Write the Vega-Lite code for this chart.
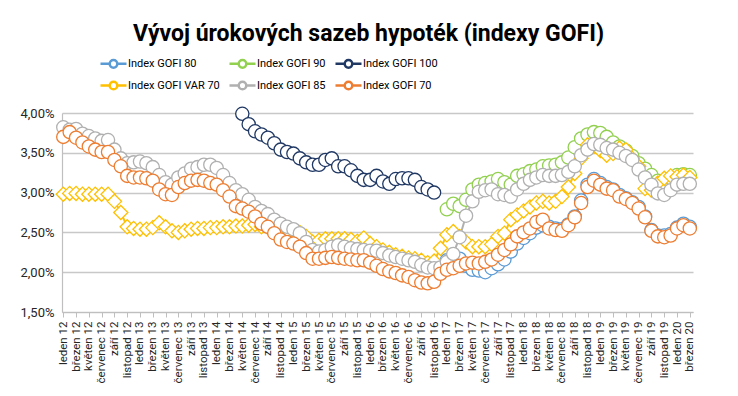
{
  "$schema": "https://vega.github.io/schema/vega-lite/v6.json",
  "width": 631,
  "height": 199,
  "autosize": {"type": "none"},
  "padding": {"left": 62, "top": 113, "right": 45, "bottom": 84},
  "background": "white",
  "title": {
    "text": "Vývoj úrokových sazeb hypoték (indexy GOFI)",
    "font": "Roboto",
    "fontSize": 23,
    "fontWeight": "bold",
    "color": "#000000",
    "anchor": "middle",
    "dx": -9,
    "offset": -17,
    "baseline": "bottom"
  },
  "config": {
    "view": {"stroke": null},
    "font": "Roboto"
  },
  "datasets": {
    "rates": [
      {"s":"Index GOFI 80","i":60,"v":2.15},{"s":"Index GOFI 80","i":61,"v":2.17},{"s":"Index GOFI 80","i":62,"v":2.17},{"s":"Index GOFI 80","i":63,"v":2.08},{"s":"Index GOFI 80","i":64,"v":2.03},{"s":"Index GOFI 80","i":65,"v":2.02},{"s":"Index GOFI 80","i":66,"v":2.00},{"s":"Index GOFI 80","i":67,"v":2.05},{"s":"Index GOFI 80","i":68,"v":2.10},{"s":"Index GOFI 80","i":69,"v":2.16},
      {"s":"Index GOFI 80","i":70,"v":2.26},{"s":"Index GOFI 80","i":71,"v":2.36},{"s":"Index GOFI 80","i":72,"v":2.43},{"s":"Index GOFI 80","i":73,"v":2.49},{"s":"Index GOFI 80","i":74,"v":2.56},{"s":"Index GOFI 80","i":75,"v":2.59},{"s":"Index GOFI 80","i":76,"v":2.57},{"s":"Index GOFI 80","i":77,"v":2.55},{"s":"Index GOFI 80","i":78,"v":2.54},{"s":"Index GOFI 80","i":79,"v":2.60},
      {"s":"Index GOFI 80","i":80,"v":2.70},{"s":"Index GOFI 80","i":81,"v":2.90},{"s":"Index GOFI 80","i":82,"v":3.10},{"s":"Index GOFI 80","i":83,"v":3.17},{"s":"Index GOFI 80","i":84,"v":3.12},{"s":"Index GOFI 80","i":85,"v":3.07},{"s":"Index GOFI 80","i":86,"v":3.04},{"s":"Index GOFI 80","i":87,"v":2.97},{"s":"Index GOFI 80","i":88,"v":2.93},{"s":"Index GOFI 80","i":89,"v":2.88},
      {"s":"Index GOFI 80","i":90,"v":2.82},{"s":"Index GOFI 80","i":91,"v":2.70},{"s":"Index GOFI 80","i":92,"v":2.53},{"s":"Index GOFI 80","i":93,"v":2.46},{"s":"Index GOFI 80","i":94,"v":2.46},{"s":"Index GOFI 80","i":95,"v":2.48},{"s":"Index GOFI 80","i":96,"v":2.56},{"s":"Index GOFI 80","i":97,"v":2.61},{"s":"Index GOFI 80","i":98,"v":2.57},

      {"s":"Index GOFI 90","i":60,"v":2.79},{"s":"Index GOFI 90","i":61,"v":2.86},{"s":"Index GOFI 90","i":62,"v":2.83},{"s":"Index GOFI 90","i":63,"v":2.91},{"s":"Index GOFI 90","i":64,"v":3.04},{"s":"Index GOFI 90","i":65,"v":3.10},{"s":"Index GOFI 90","i":66,"v":3.12},{"s":"Index GOFI 90","i":67,"v":3.14},{"s":"Index GOFI 90","i":68,"v":3.17},{"s":"Index GOFI 90","i":69,"v":3.13},
      {"s":"Index GOFI 90","i":70,"v":3.10},{"s":"Index GOFI 90","i":71,"v":3.21},{"s":"Index GOFI 90","i":72,"v":3.23},{"s":"Index GOFI 90","i":73,"v":3.27},{"s":"Index GOFI 90","i":74,"v":3.29},{"s":"Index GOFI 90","i":75,"v":3.33},{"s":"Index GOFI 90","i":76,"v":3.34},{"s":"Index GOFI 90","i":77,"v":3.35},{"s":"Index GOFI 90","i":78,"v":3.38},{"s":"Index GOFI 90","i":79,"v":3.44},
      {"s":"Index GOFI 90","i":80,"v":3.57},{"s":"Index GOFI 90","i":81,"v":3.68},{"s":"Index GOFI 90","i":82,"v":3.73},{"s":"Index GOFI 90","i":83,"v":3.76},{"s":"Index GOFI 90","i":84,"v":3.75},{"s":"Index GOFI 90","i":85,"v":3.70},{"s":"Index GOFI 90","i":86,"v":3.63},{"s":"Index GOFI 90","i":87,"v":3.58},{"s":"Index GOFI 90","i":88,"v":3.53},{"s":"Index GOFI 90","i":89,"v":3.46},
      {"s":"Index GOFI 90","i":90,"v":3.37},{"s":"Index GOFI 90","i":91,"v":3.30},{"s":"Index GOFI 90","i":92,"v":3.22},{"s":"Index GOFI 90","i":93,"v":3.15},{"s":"Index GOFI 90","i":94,"v":3.12},{"s":"Index GOFI 90","i":95,"v":3.18},{"s":"Index GOFI 90","i":96,"v":3.22},{"s":"Index GOFI 90","i":97,"v":3.23},{"s":"Index GOFI 90","i":98,"v":3.22},

      {"s":"Index GOFI 100","i":28,"v":3.99},{"s":"Index GOFI 100","i":29,"v":3.86},{"s":"Index GOFI 100","i":30,"v":3.77},{"s":"Index GOFI 100","i":31,"v":3.73},{"s":"Index GOFI 100","i":32,"v":3.69},{"s":"Index GOFI 100","i":33,"v":3.62},{"s":"Index GOFI 100","i":34,"v":3.54},{"s":"Index GOFI 100","i":35,"v":3.51},{"s":"Index GOFI 100","i":36,"v":3.49},{"s":"Index GOFI 100","i":37,"v":3.43},
      {"s":"Index GOFI 100","i":38,"v":3.38},{"s":"Index GOFI 100","i":39,"v":3.35},{"s":"Index GOFI 100","i":40,"v":3.35},{"s":"Index GOFI 100","i":41,"v":3.41},{"s":"Index GOFI 100","i":42,"v":3.43},{"s":"Index GOFI 100","i":43,"v":3.33},{"s":"Index GOFI 100","i":44,"v":3.33},{"s":"Index GOFI 100","i":45,"v":3.28},{"s":"Index GOFI 100","i":46,"v":3.21},{"s":"Index GOFI 100","i":47,"v":3.16},
      {"s":"Index GOFI 100","i":48,"v":3.16},{"s":"Index GOFI 100","i":49,"v":3.21},{"s":"Index GOFI 100","i":50,"v":3.14},{"s":"Index GOFI 100","i":51,"v":3.11},{"s":"Index GOFI 100","i":52,"v":3.17},{"s":"Index GOFI 100","i":53,"v":3.18},{"s":"Index GOFI 100","i":54,"v":3.18},{"s":"Index GOFI 100","i":55,"v":3.16},{"s":"Index GOFI 100","i":56,"v":3.07},{"s":"Index GOFI 100","i":57,"v":3.04},
      {"s":"Index GOFI 100","i":58,"v":3.00},

      {"s":"Index GOFI VAR 70","i":0,"v":2.98},{"s":"Index GOFI VAR 70","i":1,"v":2.99},{"s":"Index GOFI VAR 70","i":2,"v":2.99},{"s":"Index GOFI VAR 70","i":3,"v":2.98},{"s":"Index GOFI VAR 70","i":4,"v":2.98},{"s":"Index GOFI VAR 70","i":5,"v":2.98},{"s":"Index GOFI VAR 70","i":6,"v":2.98},{"s":"Index GOFI VAR 70","i":7,"v":2.98},{"s":"Index GOFI VAR 70","i":8,"v":2.89},{"s":"Index GOFI VAR 70","i":9,"v":2.75},
      {"s":"Index GOFI VAR 70","i":10,"v":2.57},{"s":"Index GOFI VAR 70","i":11,"v":2.55},{"s":"Index GOFI VAR 70","i":12,"v":2.54},{"s":"Index GOFI VAR 70","i":13,"v":2.54},{"s":"Index GOFI VAR 70","i":14,"v":2.56},{"s":"Index GOFI VAR 70","i":15,"v":2.62},{"s":"Index GOFI VAR 70","i":16,"v":2.57},{"s":"Index GOFI VAR 70","i":17,"v":2.52},{"s":"Index GOFI VAR 70","i":18,"v":2.50},{"s":"Index GOFI VAR 70","i":19,"v":2.52},
      {"s":"Index GOFI VAR 70","i":20,"v":2.54},{"s":"Index GOFI VAR 70","i":21,"v":2.55},{"s":"Index GOFI VAR 70","i":22,"v":2.55},{"s":"Index GOFI VAR 70","i":23,"v":2.56},{"s":"Index GOFI VAR 70","i":24,"v":2.56},{"s":"Index GOFI VAR 70","i":25,"v":2.57},{"s":"Index GOFI VAR 70","i":26,"v":2.57},{"s":"Index GOFI VAR 70","i":27,"v":2.58},{"s":"Index GOFI VAR 70","i":28,"v":2.58},{"s":"Index GOFI VAR 70","i":29,"v":2.59},
      {"s":"Index GOFI VAR 70","i":30,"v":2.60},{"s":"Index GOFI VAR 70","i":31,"v":2.57},{"s":"Index GOFI VAR 70","i":32,"v":2.56},{"s":"Index GOFI VAR 70","i":33,"v":2.55},{"s":"Index GOFI VAR 70","i":34,"v":2.54},{"s":"Index GOFI VAR 70","i":35,"v":2.53},{"s":"Index GOFI VAR 70","i":36,"v":2.52},{"s":"Index GOFI VAR 70","i":37,"v":2.50},{"s":"Index GOFI VAR 70","i":38,"v":2.45},{"s":"Index GOFI VAR 70","i":39,"v":2.38},
      {"s":"Index GOFI VAR 70","i":40,"v":2.40},{"s":"Index GOFI VAR 70","i":41,"v":2.42},{"s":"Index GOFI VAR 70","i":42,"v":2.42},{"s":"Index GOFI VAR 70","i":43,"v":2.42},{"s":"Index GOFI VAR 70","i":44,"v":2.42},{"s":"Index GOFI VAR 70","i":45,"v":2.41},{"s":"Index GOFI VAR 70","i":46,"v":2.39},{"s":"Index GOFI VAR 70","i":47,"v":2.43},{"s":"Index GOFI VAR 70","i":48,"v":2.36},{"s":"Index GOFI VAR 70","i":49,"v":2.32},
      {"s":"Index GOFI VAR 70","i":50,"v":2.28},{"s":"Index GOFI VAR 70","i":51,"v":2.25},{"s":"Index GOFI VAR 70","i":52,"v":2.22},{"s":"Index GOFI VAR 70","i":53,"v":2.20},{"s":"Index GOFI VAR 70","i":54,"v":2.18},{"s":"Index GOFI VAR 70","i":55,"v":2.17},{"s":"Index GOFI VAR 70","i":56,"v":2.15},{"s":"Index GOFI VAR 70","i":57,"v":2.12},{"s":"Index GOFI VAR 70","i":58,"v":2.14},{"s":"Index GOFI VAR 70","i":59,"v":2.30},
      {"s":"Index GOFI VAR 70","i":60,"v":2.47},{"s":"Index GOFI VAR 70","i":61,"v":2.51},{"s":"Index GOFI VAR 70","i":62,"v":2.45},{"s":"Index GOFI VAR 70","i":63,"v":2.38},{"s":"Index GOFI VAR 70","i":64,"v":2.32},{"s":"Index GOFI VAR 70","i":65,"v":2.32},{"s":"Index GOFI VAR 70","i":66,"v":2.32},{"s":"Index GOFI VAR 70","i":67,"v":2.35},{"s":"Index GOFI VAR 70","i":68,"v":2.45},{"s":"Index GOFI VAR 70","i":69,"v":2.49},
      {"s":"Index GOFI VAR 70","i":70,"v":2.66},{"s":"Index GOFI VAR 70","i":71,"v":2.72},{"s":"Index GOFI VAR 70","i":72,"v":2.77},{"s":"Index GOFI VAR 70","i":73,"v":2.82},{"s":"Index GOFI VAR 70","i":74,"v":2.87},{"s":"Index GOFI VAR 70","i":75,"v":2.89},{"s":"Index GOFI VAR 70","i":76,"v":2.87},{"s":"Index GOFI VAR 70","i":77,"v":2.89},{"s":"Index GOFI VAR 70","i":78,"v":2.95},{"s":"Index GOFI VAR 70","i":79,"v":3.07},
      {"s":"Index GOFI VAR 70","i":80,"v":3.24},{"s":"Index GOFI VAR 70","i":81,"v":3.43},{"s":"Index GOFI VAR 70","i":82,"v":3.60},{"s":"Index GOFI VAR 70","i":83,"v":3.58},{"s":"Index GOFI VAR 70","i":84,"v":3.53},{"s":"Index GOFI VAR 70","i":85,"v":3.47},{"s":"Index GOFI VAR 70","i":86,"v":3.49},{"s":"Index GOFI VAR 70","i":87,"v":3.56},{"s":"Index GOFI VAR 70","i":88,"v":3.54},{"s":"Index GOFI VAR 70","i":89,"v":3.43},
      {"s":"Index GOFI VAR 70","i":90,"v":3.33},{"s":"Index GOFI VAR 70","i":91,"v":3.05},{"s":"Index GOFI VAR 70","i":92,"v":3.03},{"s":"Index GOFI VAR 70","i":93,"v":3.12},{"s":"Index GOFI VAR 70","i":94,"v":3.18},{"s":"Index GOFI VAR 70","i":95,"v":3.21},{"s":"Index GOFI VAR 70","i":96,"v":3.20},{"s":"Index GOFI VAR 70","i":97,"v":3.22},{"s":"Index GOFI VAR 70","i":98,"v":3.19},

      {"s":"Index GOFI 85","i":0,"v":3.82},{"s":"Index GOFI 85","i":1,"v":3.79},{"s":"Index GOFI 85","i":2,"v":3.80},{"s":"Index GOFI 85","i":3,"v":3.74},{"s":"Index GOFI 85","i":4,"v":3.71},{"s":"Index GOFI 85","i":5,"v":3.68},{"s":"Index GOFI 85","i":6,"v":3.65},{"s":"Index GOFI 85","i":7,"v":3.66},{"s":"Index GOFI 85","i":8,"v":3.54},{"s":"Index GOFI 85","i":9,"v":3.43},
      {"s":"Index GOFI 85","i":10,"v":3.37},{"s":"Index GOFI 85","i":11,"v":3.38},{"s":"Index GOFI 85","i":12,"v":3.39},{"s":"Index GOFI 85","i":13,"v":3.37},{"s":"Index GOFI 85","i":14,"v":3.32},{"s":"Index GOFI 85","i":15,"v":3.22},{"s":"Index GOFI 85","i":16,"v":3.13},{"s":"Index GOFI 85","i":17,"v":3.10},{"s":"Index GOFI 85","i":18,"v":3.19},{"s":"Index GOFI 85","i":19,"v":3.24},
      {"s":"Index GOFI 85","i":20,"v":3.30},{"s":"Index GOFI 85","i":21,"v":3.32},{"s":"Index GOFI 85","i":22,"v":3.35},{"s":"Index GOFI 85","i":23,"v":3.35},{"s":"Index GOFI 85","i":24,"v":3.31},{"s":"Index GOFI 85","i":25,"v":3.22},{"s":"Index GOFI 85","i":26,"v":3.12},{"s":"Index GOFI 85","i":27,"v":3.03},{"s":"Index GOFI 85","i":28,"v":2.98},{"s":"Index GOFI 85","i":29,"v":2.91},
      {"s":"Index GOFI 85","i":30,"v":2.82},{"s":"Index GOFI 85","i":31,"v":2.77},{"s":"Index GOFI 85","i":32,"v":2.73},{"s":"Index GOFI 85","i":33,"v":2.66},{"s":"Index GOFI 85","i":34,"v":2.61},{"s":"Index GOFI 85","i":35,"v":2.57},{"s":"Index GOFI 85","i":36,"v":2.54},{"s":"Index GOFI 85","i":37,"v":2.49},{"s":"Index GOFI 85","i":38,"v":2.38},{"s":"Index GOFI 85","i":39,"v":2.28},
      {"s":"Index GOFI 85","i":40,"v":2.26},{"s":"Index GOFI 85","i":41,"v":2.28},{"s":"Index GOFI 85","i":42,"v":2.32},{"s":"Index GOFI 85","i":43,"v":2.34},{"s":"Index GOFI 85","i":44,"v":2.32},{"s":"Index GOFI 85","i":45,"v":2.30},{"s":"Index GOFI 85","i":46,"v":2.29},{"s":"Index GOFI 85","i":47,"v":2.28},{"s":"Index GOFI 85","i":48,"v":2.27},{"s":"Index GOFI 85","i":49,"v":2.27},
      {"s":"Index GOFI 85","i":50,"v":2.24},{"s":"Index GOFI 85","i":51,"v":2.21},{"s":"Index GOFI 85","i":52,"v":2.19},{"s":"Index GOFI 85","i":53,"v":2.17},{"s":"Index GOFI 85","i":54,"v":2.15},{"s":"Index GOFI 85","i":55,"v":2.13},{"s":"Index GOFI 85","i":56,"v":2.09},{"s":"Index GOFI 85","i":57,"v":2.06},{"s":"Index GOFI 85","i":58,"v":2.05},{"s":"Index GOFI 85","i":59,"v":2.06},
      {"s":"Index GOFI 85","i":60,"v":2.13},{"s":"Index GOFI 85","i":61,"v":2.23},{"s":"Index GOFI 85","i":62,"v":2.44},{"s":"Index GOFI 85","i":63,"v":2.71},{"s":"Index GOFI 85","i":64,"v":2.89},{"s":"Index GOFI 85","i":65,"v":3.01},{"s":"Index GOFI 85","i":66,"v":3.03},{"s":"Index GOFI 85","i":67,"v":3.04},{"s":"Index GOFI 85","i":68,"v":2.98},{"s":"Index GOFI 85","i":69,"v":2.97},
      {"s":"Index GOFI 85","i":70,"v":2.95},{"s":"Index GOFI 85","i":71,"v":3.04},{"s":"Index GOFI 85","i":72,"v":3.11},{"s":"Index GOFI 85","i":73,"v":3.16},{"s":"Index GOFI 85","i":74,"v":3.19},{"s":"Index GOFI 85","i":75,"v":3.22},{"s":"Index GOFI 85","i":76,"v":3.21},{"s":"Index GOFI 85","i":77,"v":3.21},{"s":"Index GOFI 85","i":78,"v":3.22},{"s":"Index GOFI 85","i":79,"v":3.26},
      {"s":"Index GOFI 85","i":80,"v":3.33},{"s":"Index GOFI 85","i":81,"v":3.47},{"s":"Index GOFI 85","i":82,"v":3.54},{"s":"Index GOFI 85","i":83,"v":3.61},{"s":"Index GOFI 85","i":84,"v":3.60},{"s":"Index GOFI 85","i":85,"v":3.56},{"s":"Index GOFI 85","i":86,"v":3.54},{"s":"Index GOFI 85","i":87,"v":3.50},{"s":"Index GOFI 85","i":88,"v":3.46},{"s":"Index GOFI 85","i":89,"v":3.41},
      {"s":"Index GOFI 85","i":90,"v":3.29},{"s":"Index GOFI 85","i":91,"v":3.19},{"s":"Index GOFI 85","i":92,"v":3.10},{"s":"Index GOFI 85","i":93,"v":2.99},{"s":"Index GOFI 85","i":94,"v":2.97},{"s":"Index GOFI 85","i":95,"v":3.03},{"s":"Index GOFI 85","i":96,"v":3.10},{"s":"Index GOFI 85","i":97,"v":3.11},{"s":"Index GOFI 85","i":98,"v":3.11},

      {"s":"Index GOFI 70","i":0,"v":3.70},{"s":"Index GOFI 70","i":1,"v":3.76},{"s":"Index GOFI 70","i":2,"v":3.69},{"s":"Index GOFI 70","i":3,"v":3.63},{"s":"Index GOFI 70","i":4,"v":3.58},{"s":"Index GOFI 70","i":5,"v":3.54},{"s":"Index GOFI 70","i":6,"v":3.51},{"s":"Index GOFI 70","i":7,"v":3.51},{"s":"Index GOFI 70","i":8,"v":3.41},{"s":"Index GOFI 70","i":9,"v":3.33},
      {"s":"Index GOFI 70","i":10,"v":3.21},{"s":"Index GOFI 70","i":11,"v":3.19},{"s":"Index GOFI 70","i":12,"v":3.19},{"s":"Index GOFI 70","i":13,"v":3.18},{"s":"Index GOFI 70","i":14,"v":3.15},{"s":"Index GOFI 70","i":15,"v":3.04},{"s":"Index GOFI 70","i":16,"v":2.98},{"s":"Index GOFI 70","i":17,"v":2.97},{"s":"Index GOFI 70","i":18,"v":3.07},{"s":"Index GOFI 70","i":19,"v":3.12},
      {"s":"Index GOFI 70","i":20,"v":3.15},{"s":"Index GOFI 70","i":21,"v":3.16},{"s":"Index GOFI 70","i":22,"v":3.15},{"s":"Index GOFI 70","i":23,"v":3.12},{"s":"Index GOFI 70","i":24,"v":3.10},{"s":"Index GOFI 70","i":25,"v":3.03},{"s":"Index GOFI 70","i":26,"v":2.95},{"s":"Index GOFI 70","i":27,"v":2.83},{"s":"Index GOFI 70","i":28,"v":2.80},{"s":"Index GOFI 70","i":29,"v":2.76},
      {"s":"Index GOFI 70","i":30,"v":2.70},{"s":"Index GOFI 70","i":31,"v":2.61},{"s":"Index GOFI 70","i":32,"v":2.57},{"s":"Index GOFI 70","i":33,"v":2.49},{"s":"Index GOFI 70","i":34,"v":2.41},{"s":"Index GOFI 70","i":35,"v":2.38},{"s":"Index GOFI 70","i":36,"v":2.36},{"s":"Index GOFI 70","i":37,"v":2.32},{"s":"Index GOFI 70","i":38,"v":2.24},{"s":"Index GOFI 70","i":39,"v":2.17},
      {"s":"Index GOFI 70","i":40,"v":2.17},{"s":"Index GOFI 70","i":41,"v":2.18},{"s":"Index GOFI 70","i":42,"v":2.19},{"s":"Index GOFI 70","i":43,"v":2.18},{"s":"Index GOFI 70","i":44,"v":2.17},{"s":"Index GOFI 70","i":45,"v":2.16},{"s":"Index GOFI 70","i":46,"v":2.15},{"s":"Index GOFI 70","i":47,"v":2.15},{"s":"Index GOFI 70","i":48,"v":2.12},{"s":"Index GOFI 70","i":49,"v":2.08},
      {"s":"Index GOFI 70","i":50,"v":2.04},{"s":"Index GOFI 70","i":51,"v":2.01},{"s":"Index GOFI 70","i":52,"v":1.99},{"s":"Index GOFI 70","i":53,"v":1.96},{"s":"Index GOFI 70","i":54,"v":1.94},{"s":"Index GOFI 70","i":55,"v":1.90},{"s":"Index GOFI 70","i":56,"v":1.87},{"s":"Index GOFI 70","i":57,"v":1.86},{"s":"Index GOFI 70","i":58,"v":1.88},{"s":"Index GOFI 70","i":59,"v":1.98},
      {"s":"Index GOFI 70","i":60,"v":2.03},{"s":"Index GOFI 70","i":61,"v":2.05},{"s":"Index GOFI 70","i":62,"v":2.08},{"s":"Index GOFI 70","i":63,"v":2.11},{"s":"Index GOFI 70","i":64,"v":2.12},{"s":"Index GOFI 70","i":65,"v":2.11},{"s":"Index GOFI 70","i":66,"v":2.13},{"s":"Index GOFI 70","i":67,"v":2.16},{"s":"Index GOFI 70","i":68,"v":2.22},{"s":"Index GOFI 70","i":69,"v":2.28},
      {"s":"Index GOFI 70","i":70,"v":2.35},{"s":"Index GOFI 70","i":71,"v":2.45},{"s":"Index GOFI 70","i":72,"v":2.50},{"s":"Index GOFI 70","i":73,"v":2.55},{"s":"Index GOFI 70","i":74,"v":2.63},{"s":"Index GOFI 70","i":75,"v":2.66},{"s":"Index GOFI 70","i":76,"v":2.55},{"s":"Index GOFI 70","i":77,"v":2.53},{"s":"Index GOFI 70","i":78,"v":2.52},{"s":"Index GOFI 70","i":79,"v":2.59},
      {"s":"Index GOFI 70","i":80,"v":2.69},{"s":"Index GOFI 70","i":81,"v":2.87},{"s":"Index GOFI 70","i":82,"v":3.07},{"s":"Index GOFI 70","i":83,"v":3.15},{"s":"Index GOFI 70","i":84,"v":3.10},{"s":"Index GOFI 70","i":85,"v":3.05},{"s":"Index GOFI 70","i":86,"v":3.03},{"s":"Index GOFI 70","i":87,"v":2.95},{"s":"Index GOFI 70","i":88,"v":2.92},{"s":"Index GOFI 70","i":89,"v":2.87},
      {"s":"Index GOFI 70","i":90,"v":2.80},{"s":"Index GOFI 70","i":91,"v":2.69},{"s":"Index GOFI 70","i":92,"v":2.52},{"s":"Index GOFI 70","i":93,"v":2.45},{"s":"Index GOFI 70","i":94,"v":2.44},{"s":"Index GOFI 70","i":95,"v":2.46},{"s":"Index GOFI 70","i":96,"v":2.55},{"s":"Index GOFI 70","i":97,"v":2.59},{"s":"Index GOFI 70","i":98,"v":2.55}
    ]
  },
  "data": {"name": "rates"},
  "encoding": {
    "x": {
      "field": "i",
      "type": "quantitative",
      "scale": {"domain": [-0.2, 98.5], "nice": false, "zero": false},
      "axis": {
        "title": null,
        "values": [0,2,4,6,8,10,12,14,16,18,20,22,24,26,28,30,32,34,36,38,40,42,44,46,48,50,52,54,56,58,60,62,64,66,68,70,72,74,76,78,80,82,84,86,88,90,92,94,96,98],
        "labelExpr": "['leden','únor','březen','duben','květen','červen','červenec','srpen','září','říjen','listopad','prosinec'][datum.value % 12] + ' ' + (12 + floor(datum.value / 12))",
        "labelAngle": -90,
        "labelAlign": "right",
        "labelBaseline": "middle",
        "labelOverlap": false,
        "labelFlush": false,
        "labelFontSize": 11.5,
        "labelColor": "#262626",
        "labelPadding": 4,
        "grid": false,
        "ticks": true,
        "tickSize": 5,
        "tickColor": "#BFBFBF",
        "domainColor": "#BFBFBF",
        "domainWidth": 1.2
      }
    },
    "y": {
      "field": "v",
      "type": "quantitative",
      "scale": {"domain": [1.5, 4], "nice": false, "zero": false},
      "axis": {
        "title": null,
        "values": [1.5, 2, 2.5, 3, 3.5, 4],
        "labelExpr": "replace(format(datum.value, '.2f'), '.', ',') + '%'",
        "labelFontSize": 13,
        "labelColor": "#262626",
        "labelPadding": 8,
        "ticks": false,
        "grid": true,
        "gridColor": "#C8C8C8",
        "gridWidth": 1.3,
        "domain": true,
        "domainColor": "#BFBFBF",
        "domainWidth": 1.2
      }
    },
    "color": {
      "field": "s",
      "type": "nominal",
      "scale": {
        "domain": ["Index GOFI 80", "Index GOFI 90", "Index GOFI 100", "Index GOFI VAR 70", "Index GOFI 85", "Index GOFI 70"],
        "range": ["#5B9BD5", "#92D050", "#203864", "#FFC000", "#B0B0B0", "#ED7D31"]
      },
      "legend": {
        "title": null,
        "orient": "none",
        "legendX": 40,
        "legendY": -61,
        "direction": "horizontal",
        "columns": 3,
        "gridAlign": "each",
        "columnPadding": 4,
        "rowPadding": 1,
        "symbolType": "M-1.3,0L-0.38,0M0.38,0L1.3,0M-0.38,0A0.38,0.38,0,1,1,0.38,0A0.38,0.38,0,1,1,-0.38,0",
        "symbolSize": 400,
        "symbolStrokeWidth": 2.5,
        "labelFontSize": 11,
        "labelColor": "#000000",
        "labelOffset": 3,
        "encode": {"symbols": {"update": {"fill": {"value": "white"}, "fillOpacity": {"value": 1}, "strokeWidth": {"value": 2.5}, "opacity": {"value": 1}}}}
      }
    }
  },
  "layer": [
    {"mark": {"type": "line", "strokeWidth": 2}},
    {
      "transform": [{"filter": "datum.s == 'Index GOFI 80' || datum.s == 'Index GOFI 90' || datum.s == 'Index GOFI 100'"}],
      "mark": {"type": "point", "shape": "circle", "filled": false, "fill": "white", "fillOpacity": 1, "opacity": 1, "strokeWidth": 1.3, "size": 175}
    },
    {
      "transform": [{"filter": "datum.s == 'Index GOFI VAR 70'"}],
      "mark": {"type": "point", "shape": "diamond", "filled": false, "fill": "white", "fillOpacity": 1, "opacity": 1, "strokeWidth": 1.3, "size": 200}
    },
    {
      "transform": [{"filter": "datum.s == 'Index GOFI 85' || datum.s == 'Index GOFI 70'"}],
      "mark": {"type": "point", "shape": "circle", "filled": false, "fill": "white", "fillOpacity": 1, "opacity": 1, "strokeWidth": 1.3, "size": 175}
    }
  ]
}
